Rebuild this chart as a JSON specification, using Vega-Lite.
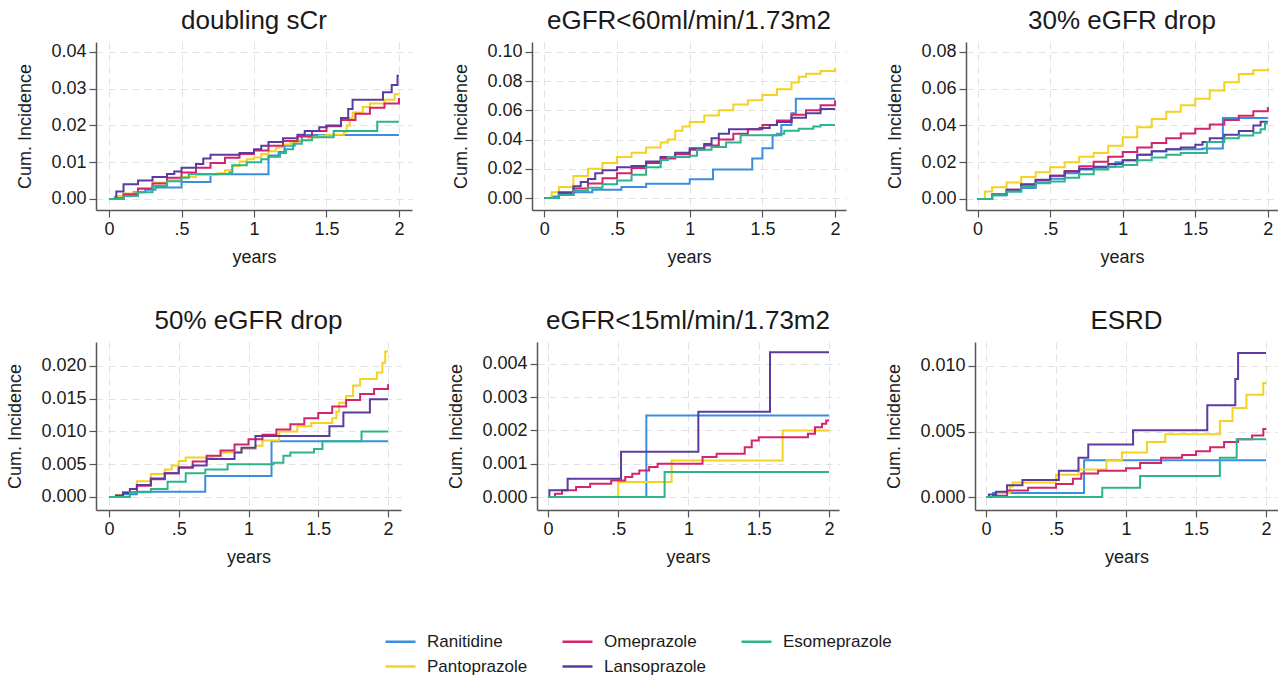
{
"$schema": "https://vega.github.io/schema/vega-lite/v6.json",
"padding": {"left": 6, "top": 8, "right": 0, "bottom": 0},
"datasets": {"d": [
{"p":"A","d":"Ranitidine","t":0,"v":0},{"p":"A","d":"Ranitidine","t":0.04,"v":0.0005},{"p":"A","d":"Ranitidine","t":0.1,"v":0.001},{"p":"A","d":"Ranitidine","t":0.17,"v":0.0018},{"p":"A","d":"Ranitidine","t":0.25,"v":0.0025},{"p":"A","d":"Ranitidine","t":0.32,"v":0.0031},{"p":"A","d":"Ranitidine","t":0.5,"v":0.0046},{"p":"A","d":"Ranitidine","t":0.7,"v":0.0067},{"p":"A","d":"Ranitidine","t":1.1,"v":0.0118},{"p":"A","d":"Ranitidine","t":1.17,"v":0.0128},{"p":"A","d":"Ranitidine","t":1.21,"v":0.0145},{"p":"A","d":"Ranitidine","t":1.28,"v":0.0158},{"p":"A","d":"Ranitidine","t":1.33,"v":0.0174},{"p":"A","d":"Ranitidine","t":2,"v":0.0174},
{"p":"A","d":"Pantoprazole","t":0,"v":0},{"p":"A","d":"Pantoprazole","t":0.05,"v":0.0008},{"p":"A","d":"Pantoprazole","t":0.1,"v":0.0015},{"p":"A","d":"Pantoprazole","t":0.2,"v":0.003},{"p":"A","d":"Pantoprazole","t":0.3,"v":0.0045},{"p":"A","d":"Pantoprazole","t":0.4,"v":0.0052},{"p":"A","d":"Pantoprazole","t":0.5,"v":0.006},{"p":"A","d":"Pantoprazole","t":0.6,"v":0.0065},{"p":"A","d":"Pantoprazole","t":0.75,"v":0.007},{"p":"A","d":"Pantoprazole","t":0.8,"v":0.0078},{"p":"A","d":"Pantoprazole","t":0.85,"v":0.009},{"p":"A","d":"Pantoprazole","t":0.9,"v":0.0102},{"p":"A","d":"Pantoprazole","t":0.95,"v":0.0108},{"p":"A","d":"Pantoprazole","t":1.0,"v":0.0113},{"p":"A","d":"Pantoprazole","t":1.05,"v":0.0122},{"p":"A","d":"Pantoprazole","t":1.1,"v":0.013},{"p":"A","d":"Pantoprazole","t":1.15,"v":0.014},{"p":"A","d":"Pantoprazole","t":1.2,"v":0.0148},{"p":"A","d":"Pantoprazole","t":1.25,"v":0.0155},{"p":"A","d":"Pantoprazole","t":1.3,"v":0.016},{"p":"A","d":"Pantoprazole","t":1.38,"v":0.0168},{"p":"A","d":"Pantoprazole","t":1.45,"v":0.0172},{"p":"A","d":"Pantoprazole","t":1.5,"v":0.0175},{"p":"A","d":"Pantoprazole","t":1.62,"v":0.0182},{"p":"A","d":"Pantoprazole","t":1.64,"v":0.02},{"p":"A","d":"Pantoprazole","t":1.66,"v":0.022},{"p":"A","d":"Pantoprazole","t":1.68,"v":0.0235},{"p":"A","d":"Pantoprazole","t":1.75,"v":0.025},{"p":"A","d":"Pantoprazole","t":1.8,"v":0.026},{"p":"A","d":"Pantoprazole","t":1.9,"v":0.027},{"p":"A","d":"Pantoprazole","t":1.97,"v":0.0285},{"p":"A","d":"Pantoprazole","t":2,"v":0.0285},
{"p":"A","d":"Omeprazole","t":0,"v":0},{"p":"A","d":"Omeprazole","t":0.1,"v":0.0013},{"p":"A","d":"Omeprazole","t":0.2,"v":0.0028},{"p":"A","d":"Omeprazole","t":0.3,"v":0.0042},{"p":"A","d":"Omeprazole","t":0.4,"v":0.0058},{"p":"A","d":"Omeprazole","t":0.5,"v":0.0072},{"p":"A","d":"Omeprazole","t":0.6,"v":0.0085},{"p":"A","d":"Omeprazole","t":0.7,"v":0.0098},{"p":"A","d":"Omeprazole","t":0.8,"v":0.0112},{"p":"A","d":"Omeprazole","t":0.9,"v":0.0122},{"p":"A","d":"Omeprazole","t":1.0,"v":0.0132},{"p":"A","d":"Omeprazole","t":1.1,"v":0.0145},{"p":"A","d":"Omeprazole","t":1.2,"v":0.0158},{"p":"A","d":"Omeprazole","t":1.3,"v":0.017},{"p":"A","d":"Omeprazole","t":1.4,"v":0.0185},{"p":"A","d":"Omeprazole","t":1.5,"v":0.0198},{"p":"A","d":"Omeprazole","t":1.6,"v":0.0215},{"p":"A","d":"Omeprazole","t":1.7,"v":0.0232},{"p":"A","d":"Omeprazole","t":1.8,"v":0.0248},{"p":"A","d":"Omeprazole","t":1.9,"v":0.026},{"p":"A","d":"Omeprazole","t":2.0,"v":0.0275},
{"p":"A","d":"Lansoprazole","t":0,"v":0},{"p":"A","d":"Lansoprazole","t":0.05,"v":0.002},{"p":"A","d":"Lansoprazole","t":0.1,"v":0.004},{"p":"A","d":"Lansoprazole","t":0.2,"v":0.005},{"p":"A","d":"Lansoprazole","t":0.3,"v":0.006},{"p":"A","d":"Lansoprazole","t":0.4,"v":0.0068},{"p":"A","d":"Lansoprazole","t":0.45,"v":0.0075},{"p":"A","d":"Lansoprazole","t":0.5,"v":0.0085},{"p":"A","d":"Lansoprazole","t":0.6,"v":0.0095},{"p":"A","d":"Lansoprazole","t":0.65,"v":0.011},{"p":"A","d":"Lansoprazole","t":0.7,"v":0.012},{"p":"A","d":"Lansoprazole","t":0.9,"v":0.0125},{"p":"A","d":"Lansoprazole","t":1.0,"v":0.0135},{"p":"A","d":"Lansoprazole","t":1.05,"v":0.0145},{"p":"A","d":"Lansoprazole","t":1.1,"v":0.0155},{"p":"A","d":"Lansoprazole","t":1.2,"v":0.0165},{"p":"A","d":"Lansoprazole","t":1.3,"v":0.0175},{"p":"A","d":"Lansoprazole","t":1.35,"v":0.0185},{"p":"A","d":"Lansoprazole","t":1.45,"v":0.0195},{"p":"A","d":"Lansoprazole","t":1.5,"v":0.02},{"p":"A","d":"Lansoprazole","t":1.6,"v":0.022},{"p":"A","d":"Lansoprazole","t":1.65,"v":0.0245},{"p":"A","d":"Lansoprazole","t":1.68,"v":0.027},{"p":"A","d":"Lansoprazole","t":1.86,"v":0.027},{"p":"A","d":"Lansoprazole","t":1.89,"v":0.029},{"p":"A","d":"Lansoprazole","t":1.95,"v":0.031},{"p":"A","d":"Lansoprazole","t":1.99,"v":0.0335},{"p":"A","d":"Lansoprazole","t":2,"v":0.0335},
{"p":"A","d":"Esomeprazole","t":0,"v":0},{"p":"A","d":"Esomeprazole","t":0.1,"v":0.0008},{"p":"A","d":"Esomeprazole","t":0.2,"v":0.0018},{"p":"A","d":"Esomeprazole","t":0.3,"v":0.0035},{"p":"A","d":"Esomeprazole","t":0.4,"v":0.0048},{"p":"A","d":"Esomeprazole","t":0.5,"v":0.0058},{"p":"A","d":"Esomeprazole","t":0.55,"v":0.0068},{"p":"A","d":"Esomeprazole","t":0.83,"v":0.0072},{"p":"A","d":"Esomeprazole","t":0.85,"v":0.0092},{"p":"A","d":"Esomeprazole","t":0.95,"v":0.01},{"p":"A","d":"Esomeprazole","t":1.05,"v":0.0108},{"p":"A","d":"Esomeprazole","t":1.1,"v":0.0115},{"p":"A","d":"Esomeprazole","t":1.18,"v":0.0125},{"p":"A","d":"Esomeprazole","t":1.22,"v":0.0135},{"p":"A","d":"Esomeprazole","t":1.27,"v":0.015},{"p":"A","d":"Esomeprazole","t":1.33,"v":0.016},{"p":"A","d":"Esomeprazole","t":1.4,"v":0.0168},{"p":"A","d":"Esomeprazole","t":1.55,"v":0.0185},{"p":"A","d":"Esomeprazole","t":1.85,"v":0.021},{"p":"A","d":"Esomeprazole","t":2,"v":0.021},

{"p":"B","d":"Ranitidine","t":0,"v":0},{"p":"B","d":"Ranitidine","t":0.05,"v":0.001},{"p":"B","d":"Ranitidine","t":0.1,"v":0.002},{"p":"B","d":"Ranitidine","t":0.2,"v":0.004},{"p":"B","d":"Ranitidine","t":0.33,"v":0.0057},{"p":"B","d":"Ranitidine","t":0.53,"v":0.0075},{"p":"B","d":"Ranitidine","t":0.7,"v":0.0098},{"p":"B","d":"Ranitidine","t":1.0,"v":0.0128},{"p":"B","d":"Ranitidine","t":1.16,"v":0.0195},{"p":"B","d":"Ranitidine","t":1.43,"v":0.027},{"p":"B","d":"Ranitidine","t":1.5,"v":0.034},{"p":"B","d":"Ranitidine","t":1.57,"v":0.043},{"p":"B","d":"Ranitidine","t":1.63,"v":0.05},{"p":"B","d":"Ranitidine","t":1.7,"v":0.058},{"p":"B","d":"Ranitidine","t":1.73,"v":0.068},{"p":"B","d":"Ranitidine","t":2,"v":0.068},
{"p":"B","d":"Pantoprazole","t":0,"v":0},{"p":"B","d":"Pantoprazole","t":0.05,"v":0.004},{"p":"B","d":"Pantoprazole","t":0.1,"v":0.0075},{"p":"B","d":"Pantoprazole","t":0.2,"v":0.015},{"p":"B","d":"Pantoprazole","t":0.3,"v":0.02},{"p":"B","d":"Pantoprazole","t":0.4,"v":0.024},{"p":"B","d":"Pantoprazole","t":0.5,"v":0.028},{"p":"B","d":"Pantoprazole","t":0.6,"v":0.031},{"p":"B","d":"Pantoprazole","t":0.7,"v":0.0345},{"p":"B","d":"Pantoprazole","t":0.8,"v":0.038},{"p":"B","d":"Pantoprazole","t":0.85,"v":0.04},{"p":"B","d":"Pantoprazole","t":0.9,"v":0.046},{"p":"B","d":"Pantoprazole","t":0.95,"v":0.049},{"p":"B","d":"Pantoprazole","t":1.0,"v":0.052},{"p":"B","d":"Pantoprazole","t":1.1,"v":0.0565},{"p":"B","d":"Pantoprazole","t":1.2,"v":0.06},{"p":"B","d":"Pantoprazole","t":1.3,"v":0.064},{"p":"B","d":"Pantoprazole","t":1.4,"v":0.067},{"p":"B","d":"Pantoprazole","t":1.5,"v":0.0705},{"p":"B","d":"Pantoprazole","t":1.6,"v":0.0745},{"p":"B","d":"Pantoprazole","t":1.7,"v":0.079},{"p":"B","d":"Pantoprazole","t":1.75,"v":0.083},{"p":"B","d":"Pantoprazole","t":1.8,"v":0.085},{"p":"B","d":"Pantoprazole","t":1.9,"v":0.087},{"p":"B","d":"Pantoprazole","t":2.0,"v":0.089},
{"p":"B","d":"Omeprazole","t":0,"v":0},{"p":"B","d":"Omeprazole","t":0.1,"v":0.003},{"p":"B","d":"Omeprazole","t":0.2,"v":0.0065},{"p":"B","d":"Omeprazole","t":0.3,"v":0.01},{"p":"B","d":"Omeprazole","t":0.4,"v":0.0135},{"p":"B","d":"Omeprazole","t":0.5,"v":0.017},{"p":"B","d":"Omeprazole","t":0.6,"v":0.0205},{"p":"B","d":"Omeprazole","t":0.7,"v":0.024},{"p":"B","d":"Omeprazole","t":0.8,"v":0.027},{"p":"B","d":"Omeprazole","t":0.9,"v":0.03},{"p":"B","d":"Omeprazole","t":1.0,"v":0.033},{"p":"B","d":"Omeprazole","t":1.1,"v":0.036},{"p":"B","d":"Omeprazole","t":1.2,"v":0.04},{"p":"B","d":"Omeprazole","t":1.3,"v":0.044},{"p":"B","d":"Omeprazole","t":1.4,"v":0.047},{"p":"B","d":"Omeprazole","t":1.5,"v":0.05},{"p":"B","d":"Omeprazole","t":1.6,"v":0.053},{"p":"B","d":"Omeprazole","t":1.7,"v":0.057},{"p":"B","d":"Omeprazole","t":1.8,"v":0.06},{"p":"B","d":"Omeprazole","t":1.9,"v":0.0635},{"p":"B","d":"Omeprazole","t":2.0,"v":0.067},
{"p":"B","d":"Lansoprazole","t":0,"v":0},{"p":"B","d":"Lansoprazole","t":0.1,"v":0.004},{"p":"B","d":"Lansoprazole","t":0.2,"v":0.008},{"p":"B","d":"Lansoprazole","t":0.25,"v":0.011},{"p":"B","d":"Lansoprazole","t":0.3,"v":0.013},{"p":"B","d":"Lansoprazole","t":0.35,"v":0.017},{"p":"B","d":"Lansoprazole","t":0.4,"v":0.019},{"p":"B","d":"Lansoprazole","t":0.5,"v":0.021},{"p":"B","d":"Lansoprazole","t":0.6,"v":0.022},{"p":"B","d":"Lansoprazole","t":0.7,"v":0.025},{"p":"B","d":"Lansoprazole","t":0.8,"v":0.028},{"p":"B","d":"Lansoprazole","t":0.9,"v":0.031},{"p":"B","d":"Lansoprazole","t":1.0,"v":0.034},{"p":"B","d":"Lansoprazole","t":1.1,"v":0.037},{"p":"B","d":"Lansoprazole","t":1.15,"v":0.041},{"p":"B","d":"Lansoprazole","t":1.2,"v":0.044},{"p":"B","d":"Lansoprazole","t":1.27,"v":0.047},{"p":"B","d":"Lansoprazole","t":1.48,"v":0.048},{"p":"B","d":"Lansoprazole","t":1.55,"v":0.05},{"p":"B","d":"Lansoprazole","t":1.6,"v":0.052},{"p":"B","d":"Lansoprazole","t":1.7,"v":0.055},{"p":"B","d":"Lansoprazole","t":1.8,"v":0.058},{"p":"B","d":"Lansoprazole","t":1.9,"v":0.061},{"p":"B","d":"Lansoprazole","t":2.0,"v":0.061},
{"p":"B","d":"Esomeprazole","t":0,"v":0},{"p":"B","d":"Esomeprazole","t":0.1,"v":0.002},{"p":"B","d":"Esomeprazole","t":0.2,"v":0.005},{"p":"B","d":"Esomeprazole","t":0.3,"v":0.007},{"p":"B","d":"Esomeprazole","t":0.4,"v":0.0095},{"p":"B","d":"Esomeprazole","t":0.5,"v":0.012},{"p":"B","d":"Esomeprazole","t":0.6,"v":0.016},{"p":"B","d":"Esomeprazole","t":0.7,"v":0.021},{"p":"B","d":"Esomeprazole","t":0.8,"v":0.026},{"p":"B","d":"Esomeprazole","t":0.85,"v":0.028},{"p":"B","d":"Esomeprazole","t":1.0,"v":0.029},{"p":"B","d":"Esomeprazole","t":1.05,"v":0.033},{"p":"B","d":"Esomeprazole","t":1.15,"v":0.035},{"p":"B","d":"Esomeprazole","t":1.25,"v":0.038},{"p":"B","d":"Esomeprazole","t":1.35,"v":0.043},{"p":"B","d":"Esomeprazole","t":1.6,"v":0.044},{"p":"B","d":"Esomeprazole","t":1.65,"v":0.046},{"p":"B","d":"Esomeprazole","t":1.75,"v":0.0475},{"p":"B","d":"Esomeprazole","t":1.85,"v":0.049},{"p":"B","d":"Esomeprazole","t":1.9,"v":0.05},{"p":"B","d":"Esomeprazole","t":2.0,"v":0.05},

{"p":"C","d":"Ranitidine","t":0,"v":0},{"p":"C","d":"Ranitidine","t":0.1,"v":0.002},{"p":"C","d":"Ranitidine","t":0.2,"v":0.004},{"p":"C","d":"Ranitidine","t":0.3,"v":0.006},{"p":"C","d":"Ranitidine","t":0.4,"v":0.009},{"p":"C","d":"Ranitidine","t":0.5,"v":0.011},{"p":"C","d":"Ranitidine","t":0.6,"v":0.014},{"p":"C","d":"Ranitidine","t":0.7,"v":0.016},{"p":"C","d":"Ranitidine","t":0.8,"v":0.017},{"p":"C","d":"Ranitidine","t":0.9,"v":0.0175},{"p":"C","d":"Ranitidine","t":0.95,"v":0.02},{"p":"C","d":"Ranitidine","t":1.0,"v":0.021},{"p":"C","d":"Ranitidine","t":1.1,"v":0.024},{"p":"C","d":"Ranitidine","t":1.2,"v":0.026},{"p":"C","d":"Ranitidine","t":1.3,"v":0.027},{"p":"C","d":"Ranitidine","t":1.55,"v":0.0275},{"p":"C","d":"Ranitidine","t":1.69,"v":0.044},{"p":"C","d":"Ranitidine","t":2,"v":0.044},
{"p":"C","d":"Pantoprazole","t":0,"v":0},{"p":"C","d":"Pantoprazole","t":0.05,"v":0.004},{"p":"C","d":"Pantoprazole","t":0.1,"v":0.0064},{"p":"C","d":"Pantoprazole","t":0.2,"v":0.009},{"p":"C","d":"Pantoprazole","t":0.3,"v":0.012},{"p":"C","d":"Pantoprazole","t":0.4,"v":0.0145},{"p":"C","d":"Pantoprazole","t":0.5,"v":0.0173},{"p":"C","d":"Pantoprazole","t":0.6,"v":0.02},{"p":"C","d":"Pantoprazole","t":0.7,"v":0.023},{"p":"C","d":"Pantoprazole","t":0.8,"v":0.025},{"p":"C","d":"Pantoprazole","t":0.9,"v":0.029},{"p":"C","d":"Pantoprazole","t":1.0,"v":0.0336},{"p":"C","d":"Pantoprazole","t":1.1,"v":0.039},{"p":"C","d":"Pantoprazole","t":1.2,"v":0.0435},{"p":"C","d":"Pantoprazole","t":1.3,"v":0.0475},{"p":"C","d":"Pantoprazole","t":1.4,"v":0.051},{"p":"C","d":"Pantoprazole","t":1.5,"v":0.0545},{"p":"C","d":"Pantoprazole","t":1.6,"v":0.059},{"p":"C","d":"Pantoprazole","t":1.7,"v":0.0635},{"p":"C","d":"Pantoprazole","t":1.8,"v":0.068},{"p":"C","d":"Pantoprazole","t":1.9,"v":0.07},{"p":"C","d":"Pantoprazole","t":2.0,"v":0.071},
{"p":"C","d":"Omeprazole","t":0,"v":0},{"p":"C","d":"Omeprazole","t":0.1,"v":0.0025},{"p":"C","d":"Omeprazole","t":0.2,"v":0.005},{"p":"C","d":"Omeprazole","t":0.3,"v":0.0077},{"p":"C","d":"Omeprazole","t":0.4,"v":0.0102},{"p":"C","d":"Omeprazole","t":0.5,"v":0.0127},{"p":"C","d":"Omeprazole","t":0.6,"v":0.0152},{"p":"C","d":"Omeprazole","t":0.7,"v":0.0178},{"p":"C","d":"Omeprazole","t":0.8,"v":0.0203},{"p":"C","d":"Omeprazole","t":0.9,"v":0.023},{"p":"C","d":"Omeprazole","t":1.0,"v":0.0255},{"p":"C","d":"Omeprazole","t":1.1,"v":0.028},{"p":"C","d":"Omeprazole","t":1.2,"v":0.0305},{"p":"C","d":"Omeprazole","t":1.3,"v":0.033},{"p":"C","d":"Omeprazole","t":1.4,"v":0.0356},{"p":"C","d":"Omeprazole","t":1.5,"v":0.0382},{"p":"C","d":"Omeprazole","t":1.6,"v":0.0405},{"p":"C","d":"Omeprazole","t":1.7,"v":0.043},{"p":"C","d":"Omeprazole","t":1.8,"v":0.0453},{"p":"C","d":"Omeprazole","t":1.9,"v":0.0477},{"p":"C","d":"Omeprazole","t":2.0,"v":0.05},
{"p":"C","d":"Lansoprazole","t":0,"v":0},{"p":"C","d":"Lansoprazole","t":0.1,"v":0.0025},{"p":"C","d":"Lansoprazole","t":0.2,"v":0.005},{"p":"C","d":"Lansoprazole","t":0.3,"v":0.008},{"p":"C","d":"Lansoprazole","t":0.4,"v":0.0105},{"p":"C","d":"Lansoprazole","t":0.5,"v":0.0127},{"p":"C","d":"Lansoprazole","t":0.6,"v":0.015},{"p":"C","d":"Lansoprazole","t":0.7,"v":0.0165},{"p":"C","d":"Lansoprazole","t":0.8,"v":0.0175},{"p":"C","d":"Lansoprazole","t":0.9,"v":0.019},{"p":"C","d":"Lansoprazole","t":1.0,"v":0.021},{"p":"C","d":"Lansoprazole","t":1.1,"v":0.024},{"p":"C","d":"Lansoprazole","t":1.2,"v":0.026},{"p":"C","d":"Lansoprazole","t":1.3,"v":0.027},{"p":"C","d":"Lansoprazole","t":1.4,"v":0.028},{"p":"C","d":"Lansoprazole","t":1.5,"v":0.0295},{"p":"C","d":"Lansoprazole","t":1.55,"v":0.031},{"p":"C","d":"Lansoprazole","t":1.6,"v":0.033},{"p":"C","d":"Lansoprazole","t":1.7,"v":0.035},{"p":"C","d":"Lansoprazole","t":1.8,"v":0.037},{"p":"C","d":"Lansoprazole","t":1.9,"v":0.04},{"p":"C","d":"Lansoprazole","t":1.95,"v":0.042},{"p":"C","d":"Lansoprazole","t":2.0,"v":0.042},
{"p":"C","d":"Esomeprazole","t":0,"v":0},{"p":"C","d":"Esomeprazole","t":0.1,"v":0.002},{"p":"C","d":"Esomeprazole","t":0.2,"v":0.004},{"p":"C","d":"Esomeprazole","t":0.3,"v":0.0065},{"p":"C","d":"Esomeprazole","t":0.4,"v":0.0085},{"p":"C","d":"Esomeprazole","t":0.5,"v":0.0095},{"p":"C","d":"Esomeprazole","t":0.6,"v":0.0115},{"p":"C","d":"Esomeprazole","t":0.7,"v":0.0135},{"p":"C","d":"Esomeprazole","t":0.8,"v":0.016},{"p":"C","d":"Esomeprazole","t":0.9,"v":0.0175},{"p":"C","d":"Esomeprazole","t":1.0,"v":0.0185},{"p":"C","d":"Esomeprazole","t":1.1,"v":0.021},{"p":"C","d":"Esomeprazole","t":1.2,"v":0.0225},{"p":"C","d":"Esomeprazole","t":1.3,"v":0.024},{"p":"C","d":"Esomeprazole","t":1.4,"v":0.025},{"p":"C","d":"Esomeprazole","t":1.58,"v":0.031},{"p":"C","d":"Esomeprazole","t":1.7,"v":0.033},{"p":"C","d":"Esomeprazole","t":1.8,"v":0.0345},{"p":"C","d":"Esomeprazole","t":1.9,"v":0.036},{"p":"C","d":"Esomeprazole","t":1.95,"v":0.038},{"p":"C","d":"Esomeprazole","t":1.98,"v":0.041},{"p":"C","d":"Esomeprazole","t":2.0,"v":0.041},

{"p":"D","d":"Ranitidine","t":0,"v":0},{"p":"D","d":"Ranitidine","t":0.05,"v":0.0002},{"p":"D","d":"Ranitidine","t":0.1,"v":0.0004},{"p":"D","d":"Ranitidine","t":0.2,"v":0.0008},{"p":"D","d":"Ranitidine","t":0.69,"v":0.0032},{"p":"D","d":"Ranitidine","t":1.165,"v":0.0085},{"p":"D","d":"Ranitidine","t":2,"v":0.0085},
{"p":"D","d":"Pantoprazole","t":0,"v":0},{"p":"D","d":"Pantoprazole","t":0.05,"v":0.0003},{"p":"D","d":"Pantoprazole","t":0.1,"v":0.0006},{"p":"D","d":"Pantoprazole","t":0.15,"v":0.0012},{"p":"D","d":"Pantoprazole","t":0.2,"v":0.0024},{"p":"D","d":"Pantoprazole","t":0.3,"v":0.0035},{"p":"D","d":"Pantoprazole","t":0.4,"v":0.0042},{"p":"D","d":"Pantoprazole","t":0.45,"v":0.0048},{"p":"D","d":"Pantoprazole","t":0.5,"v":0.0055},{"p":"D","d":"Pantoprazole","t":0.55,"v":0.006},{"p":"D","d":"Pantoprazole","t":0.75,"v":0.0062},{"p":"D","d":"Pantoprazole","t":0.8,"v":0.0068},{"p":"D","d":"Pantoprazole","t":0.95,"v":0.0073},{"p":"D","d":"Pantoprazole","t":1.05,"v":0.0078},{"p":"D","d":"Pantoprazole","t":1.1,"v":0.0086},{"p":"D","d":"Pantoprazole","t":1.22,"v":0.01},{"p":"D","d":"Pantoprazole","t":1.35,"v":0.0108},{"p":"D","d":"Pantoprazole","t":1.45,"v":0.0113},{"p":"D","d":"Pantoprazole","t":1.6,"v":0.012},{"p":"D","d":"Pantoprazole","t":1.63,"v":0.013},{"p":"D","d":"Pantoprazole","t":1.65,"v":0.0144},{"p":"D","d":"Pantoprazole","t":1.7,"v":0.0154},{"p":"D","d":"Pantoprazole","t":1.75,"v":0.017},{"p":"D","d":"Pantoprazole","t":1.8,"v":0.018},{"p":"D","d":"Pantoprazole","t":1.92,"v":0.019},{"p":"D","d":"Pantoprazole","t":1.96,"v":0.0205},{"p":"D","d":"Pantoprazole","t":1.98,"v":0.0222},{"p":"D","d":"Pantoprazole","t":2,"v":0.0222},
{"p":"D","d":"Omeprazole","t":0,"v":0},{"p":"D","d":"Omeprazole","t":0.1,"v":0.0007},{"p":"D","d":"Omeprazole","t":0.2,"v":0.0017},{"p":"D","d":"Omeprazole","t":0.3,"v":0.0027},{"p":"D","d":"Omeprazole","t":0.4,"v":0.0036},{"p":"D","d":"Omeprazole","t":0.5,"v":0.0045},{"p":"D","d":"Omeprazole","t":0.6,"v":0.0054},{"p":"D","d":"Omeprazole","t":0.7,"v":0.0063},{"p":"D","d":"Omeprazole","t":0.8,"v":0.0071},{"p":"D","d":"Omeprazole","t":0.9,"v":0.008},{"p":"D","d":"Omeprazole","t":1.0,"v":0.0088},{"p":"D","d":"Omeprazole","t":1.1,"v":0.0095},{"p":"D","d":"Omeprazole","t":1.2,"v":0.0103},{"p":"D","d":"Omeprazole","t":1.3,"v":0.0111},{"p":"D","d":"Omeprazole","t":1.4,"v":0.012},{"p":"D","d":"Omeprazole","t":1.5,"v":0.0128},{"p":"D","d":"Omeprazole","t":1.6,"v":0.0138},{"p":"D","d":"Omeprazole","t":1.7,"v":0.0148},{"p":"D","d":"Omeprazole","t":1.8,"v":0.0157},{"p":"D","d":"Omeprazole","t":1.9,"v":0.0165},{"p":"D","d":"Omeprazole","t":2.0,"v":0.0172},
{"p":"D","d":"Lansoprazole","t":0,"v":0},{"p":"D","d":"Lansoprazole","t":0.05,"v":0.0002},{"p":"D","d":"Lansoprazole","t":0.1,"v":0.0006},{"p":"D","d":"Lansoprazole","t":0.15,"v":0.0012},{"p":"D","d":"Lansoprazole","t":0.2,"v":0.0018},{"p":"D","d":"Lansoprazole","t":0.3,"v":0.0028},{"p":"D","d":"Lansoprazole","t":0.4,"v":0.0036},{"p":"D","d":"Lansoprazole","t":0.5,"v":0.0045},{"p":"D","d":"Lansoprazole","t":0.6,"v":0.0048},{"p":"D","d":"Lansoprazole","t":0.7,"v":0.0058},{"p":"D","d":"Lansoprazole","t":0.9,"v":0.0068},{"p":"D","d":"Lansoprazole","t":0.95,"v":0.0075},{"p":"D","d":"Lansoprazole","t":1.05,"v":0.0093},{"p":"D","d":"Lansoprazole","t":1.58,"v":0.0108},{"p":"D","d":"Lansoprazole","t":1.68,"v":0.0129},{"p":"D","d":"Lansoprazole","t":1.87,"v":0.0149},{"p":"D","d":"Lansoprazole","t":2,"v":0.0149},
{"p":"D","d":"Esomeprazole","t":0,"v":0},{"p":"D","d":"Esomeprazole","t":0.15,"v":0.0007},{"p":"D","d":"Esomeprazole","t":0.3,"v":0.0012},{"p":"D","d":"Esomeprazole","t":0.42,"v":0.0023},{"p":"D","d":"Esomeprazole","t":0.55,"v":0.0036},{"p":"D","d":"Esomeprazole","t":0.69,"v":0.0042},{"p":"D","d":"Esomeprazole","t":0.85,"v":0.005},{"p":"D","d":"Esomeprazole","t":1.18,"v":0.0052},{"p":"D","d":"Esomeprazole","t":1.25,"v":0.0063},{"p":"D","d":"Esomeprazole","t":1.3,"v":0.0068},{"p":"D","d":"Esomeprazole","t":1.47,"v":0.0073},{"p":"D","d":"Esomeprazole","t":1.53,"v":0.0085},{"p":"D","d":"Esomeprazole","t":1.81,"v":0.01},{"p":"D","d":"Esomeprazole","t":2,"v":0.01},

{"p":"E","d":"Ranitidine","t":0,"v":0},{"p":"E","d":"Ranitidine","t":0.7,"v":0.00245},{"p":"E","d":"Ranitidine","t":2,"v":0.00245},
{"p":"E","d":"Pantoprazole","t":0,"v":0},{"p":"E","d":"Pantoprazole","t":0.5,"v":0.00045},{"p":"E","d":"Pantoprazole","t":0.88,"v":0.0011},{"p":"E","d":"Pantoprazole","t":1.67,"v":0.002},{"p":"E","d":"Pantoprazole","t":2,"v":0.002},
{"p":"E","d":"Omeprazole","t":0,"v":0},{"p":"E","d":"Omeprazole","t":0.05,"v":0.0001},{"p":"E","d":"Omeprazole","t":0.1,"v":0.0002},{"p":"E","d":"Omeprazole","t":0.2,"v":0.0003},{"p":"E","d":"Omeprazole","t":0.3,"v":0.0004},{"p":"E","d":"Omeprazole","t":0.45,"v":0.0005},{"p":"E","d":"Omeprazole","t":0.55,"v":0.0006},{"p":"E","d":"Omeprazole","t":0.6,"v":0.0007},{"p":"E","d":"Omeprazole","t":0.65,"v":0.0008},{"p":"E","d":"Omeprazole","t":0.72,"v":0.0009},{"p":"E","d":"Omeprazole","t":0.78,"v":0.001},{"p":"E","d":"Omeprazole","t":1.1,"v":0.0012},{"p":"E","d":"Omeprazole","t":1.2,"v":0.0013},{"p":"E","d":"Omeprazole","t":1.4,"v":0.0015},{"p":"E","d":"Omeprazole","t":1.45,"v":0.0017},{"p":"E","d":"Omeprazole","t":1.5,"v":0.0018},{"p":"E","d":"Omeprazole","t":1.85,"v":0.0019},{"p":"E","d":"Omeprazole","t":1.9,"v":0.0021},{"p":"E","d":"Omeprazole","t":1.95,"v":0.0022},{"p":"E","d":"Omeprazole","t":1.98,"v":0.0023},{"p":"E","d":"Omeprazole","t":2,"v":0.0023},
{"p":"E","d":"Lansoprazole","t":0,"v":0},{"p":"E","d":"Lansoprazole","t":0.01,"v":0.0002},{"p":"E","d":"Lansoprazole","t":0.14,"v":0.00055},{"p":"E","d":"Lansoprazole","t":0.52,"v":0.00136},{"p":"E","d":"Lansoprazole","t":1.07,"v":0.00256},{"p":"E","d":"Lansoprazole","t":1.58,"v":0.00435},{"p":"E","d":"Lansoprazole","t":2,"v":0.00435},
{"p":"E","d":"Esomeprazole","t":0,"v":0},{"p":"E","d":"Esomeprazole","t":0.83,"v":0.00075},{"p":"E","d":"Esomeprazole","t":2,"v":0.00075},

{"p":"F","d":"Ranitidine","t":0,"v":0},{"p":"F","d":"Ranitidine","t":0.05,"v":0.0003},{"p":"F","d":"Ranitidine","t":0.7,"v":0.0028},{"p":"F","d":"Ranitidine","t":2,"v":0.0028},
{"p":"F","d":"Pantoprazole","t":0,"v":0},{"p":"F","d":"Pantoprazole","t":0.08,"v":0.0003},{"p":"F","d":"Pantoprazole","t":0.17,"v":0.0008},{"p":"F","d":"Pantoprazole","t":0.19,"v":0.0011},{"p":"F","d":"Pantoprazole","t":0.5,"v":0.0017},{"p":"F","d":"Pantoprazole","t":0.66,"v":0.0021},{"p":"F","d":"Pantoprazole","t":0.86,"v":0.0028},{"p":"F","d":"Pantoprazole","t":0.97,"v":0.0034},{"p":"F","d":"Pantoprazole","t":1.15,"v":0.0042},{"p":"F","d":"Pantoprazole","t":1.28,"v":0.0048},{"p":"F","d":"Pantoprazole","t":1.67,"v":0.0058},{"p":"F","d":"Pantoprazole","t":1.76,"v":0.0068},{"p":"F","d":"Pantoprazole","t":1.86,"v":0.0078},{"p":"F","d":"Pantoprazole","t":1.98,"v":0.0087},{"p":"F","d":"Pantoprazole","t":2,"v":0.0087},
{"p":"F","d":"Omeprazole","t":0,"v":0},{"p":"F","d":"Omeprazole","t":0.05,"v":0.0001},{"p":"F","d":"Omeprazole","t":0.15,"v":0.0005},{"p":"F","d":"Omeprazole","t":0.3,"v":0.0007},{"p":"F","d":"Omeprazole","t":0.5,"v":0.001},{"p":"F","d":"Omeprazole","t":0.62,"v":0.0014},{"p":"F","d":"Omeprazole","t":0.68,"v":0.0018},{"p":"F","d":"Omeprazole","t":0.8,"v":0.002},{"p":"F","d":"Omeprazole","t":1.0,"v":0.0022},{"p":"F","d":"Omeprazole","t":1.1,"v":0.0026},{"p":"F","d":"Omeprazole","t":1.25,"v":0.003},{"p":"F","d":"Omeprazole","t":1.4,"v":0.0032},{"p":"F","d":"Omeprazole","t":1.5,"v":0.0035},{"p":"F","d":"Omeprazole","t":1.6,"v":0.0038},{"p":"F","d":"Omeprazole","t":1.7,"v":0.0042},{"p":"F","d":"Omeprazole","t":1.8,"v":0.0044},{"p":"F","d":"Omeprazole","t":1.9,"v":0.0047},{"p":"F","d":"Omeprazole","t":1.98,"v":0.0052},{"p":"F","d":"Omeprazole","t":2,"v":0.0052},
{"p":"F","d":"Lansoprazole","t":0,"v":0},{"p":"F","d":"Lansoprazole","t":0.02,"v":0.0002},{"p":"F","d":"Lansoprazole","t":0.07,"v":0.0004},{"p":"F","d":"Lansoprazole","t":0.15,"v":0.0009},{"p":"F","d":"Lansoprazole","t":0.26,"v":0.0013},{"p":"F","d":"Lansoprazole","t":0.52,"v":0.002},{"p":"F","d":"Lansoprazole","t":0.66,"v":0.003},{"p":"F","d":"Lansoprazole","t":0.73,"v":0.004},{"p":"F","d":"Lansoprazole","t":1.05,"v":0.0051},{"p":"F","d":"Lansoprazole","t":1.58,"v":0.007},{"p":"F","d":"Lansoprazole","t":1.78,"v":0.009},{"p":"F","d":"Lansoprazole","t":1.8,"v":0.011},{"p":"F","d":"Lansoprazole","t":2,"v":0.011},
{"p":"F","d":"Esomeprazole","t":0,"v":0},{"p":"F","d":"Esomeprazole","t":0.83,"v":0.0007},{"p":"F","d":"Esomeprazole","t":1.1,"v":0.0016},{"p":"F","d":"Esomeprazole","t":1.67,"v":0.003},{"p":"F","d":"Esomeprazole","t":1.79,"v":0.0044},{"p":"F","d":"Esomeprazole","t":2,"v":0.0044}
]},
"data": {"name": "d"},
"spacing": 42,
"vconcat": [
{"spacing": 40, "hconcat": [
{"width": 316, "height": 168, "title": "doubling sCr",
 "transform": [{"filter": "datum.p == 'A'"}],
 "mark": {"type": "line", "interpolate": "step-after", "strokeWidth": 2},
 "encoding": {
  "x": {"field": "t", "type": "quantitative", "scale": {"domain": [-0.09, 2.09], "nice": false, "zero": false}, "axis": {"values": [0, 0.5, 1, 1.5, 2], "title": "years", "labelExpr": "datum.value == 0.5 ? '.5' : toString(datum.value)"}},
  "y": {"field": "v", "type": "quantitative", "scale": {"domain": [-0.003, 0.0427], "nice": false, "zero": false}, "axis": {"values": [0, 0.01, 0.02, 0.03, 0.04], "format": ".2f", "title": "Cum. Incidence"}},
  "color": {"field": "d", "type": "nominal", "scale": {"domain": ["Ranitidine", "Omeprazole", "Esomeprazole", "Pantoprazole", "Lansoprazole"], "range": ["#3a8ede", "#d4246c", "#2db48f", "#f4d21f", "#5b3b9f"]}, "legend": {"title": null}}
 }},
{"width": 314, "height": 168, "title": "eGFR<60ml/min/1.73m2",
 "transform": [{"filter": "datum.p == 'B'"}],
 "mark": {"type": "line", "interpolate": "step-after", "strokeWidth": 2},
 "encoding": {
  "x": {"field": "t", "type": "quantitative", "scale": {"domain": [-0.085, 2.075], "nice": false, "zero": false}, "axis": {"values": [0, 0.5, 1, 1.5, 2], "title": "years", "labelExpr": "datum.value == 0.5 ? '.5' : toString(datum.value)"}},
  "y": {"field": "v", "type": "quantitative", "scale": {"domain": [-0.0082, 0.1068], "nice": false, "zero": false}, "axis": {"values": [0, 0.02, 0.04, 0.06, 0.08, 0.1], "format": ".2f", "title": "Cum. Incidence"}},
  "color": {"field": "d", "type": "nominal", "legend": {"title": null}}
 }},
{"width": 312, "height": 168, "title": "30% eGFR drop",
 "transform": [{"filter": "datum.p == 'C'"}],
 "mark": {"type": "line", "interpolate": "step-after", "strokeWidth": 2},
 "encoding": {
  "x": {"field": "t", "type": "quantitative", "scale": {"domain": [-0.08, 2.07], "nice": false, "zero": false}, "axis": {"values": [0, 0.5, 1, 1.5, 2], "title": "years", "labelExpr": "datum.value == 0.5 ? '.5' : toString(datum.value)"}},
  "y": {"field": "v", "type": "quantitative", "scale": {"domain": [-0.006, 0.0854], "nice": false, "zero": false}, "axis": {"values": [0, 0.02, 0.04, 0.06, 0.08], "format": ".2f", "title": "Cum. Incidence"}},
  "color": {"field": "d", "type": "nominal", "legend": {"title": null}}
 }}
]},
{"spacing": 46, "hconcat": [
{"width": 305, "height": 168, "title": "50% eGFR drop",
 "transform": [{"filter": "datum.p == 'D'"}],
 "mark": {"type": "line", "interpolate": "step-after", "strokeWidth": 2},
 "encoding": {
  "x": {"field": "t", "type": "quantitative", "scale": {"domain": [-0.093, 2.093], "nice": false, "zero": false}, "axis": {"values": [0, 0.5, 1, 1.5, 2], "title": "years", "labelExpr": "datum.value == 0.5 ? '.5' : toString(datum.value)"}},
  "y": {"field": "v", "type": "quantitative", "scale": {"domain": [-0.002, 0.02366], "nice": false, "zero": false}, "axis": {"values": [0, 0.005, 0.01, 0.015, 0.02], "format": ".3f", "title": "Cum. Incidence"}},
  "color": {"field": "d", "type": "nominal", "legend": {"title": null}}
 }},
{"width": 302, "height": 168, "title": "eGFR<15ml/min/1.73m2",
 "transform": [{"filter": "datum.p == 'E'"}],
 "mark": {"type": "line", "interpolate": "step-after", "strokeWidth": 2},
 "encoding": {
  "x": {"field": "t", "type": "quantitative", "scale": {"domain": [-0.078, 2.071], "nice": false, "zero": false}, "axis": {"values": [0, 0.5, 1, 1.5, 2], "title": "years", "labelExpr": "datum.value == 0.5 ? '.5' : toString(datum.value)"}},
  "y": {"field": "v", "type": "quantitative", "scale": {"domain": [-0.00039, 0.00466], "nice": false, "zero": false}, "axis": {"values": [0, 0.001, 0.002, 0.003, 0.004], "format": ".3f", "title": "Cum. Incidence"}},
  "color": {"field": "d", "type": "nominal", "legend": {"title": null}}
 }},
{"width": 303, "height": 168, "title": "ESRD",
 "transform": [{"filter": "datum.p == 'F'"}],
 "mark": {"type": "line", "interpolate": "step-after", "strokeWidth": 2},
 "encoding": {
  "x": {"field": "t", "type": "quantitative", "scale": {"domain": [-0.079, 2.085], "nice": false, "zero": false}, "axis": {"values": [0, 0.5, 1, 1.5, 2], "title": "years", "labelExpr": "datum.value == 0.5 ? '.5' : toString(datum.value)"}},
  "y": {"field": "v", "type": "quantitative", "scale": {"domain": [-0.00099, 0.01183], "nice": false, "zero": false}, "axis": {"values": [0, 0.005, 0.01], "format": ".3f", "title": "Cum. Incidence"}},
  "color": {"field": "d", "type": "nominal", "legend": {"title": null}}
 }}
]}
],
"config": {
 "view": {"stroke": null},
 "font": "Liberation Sans",
 "title": {"fontSize": 26, "fontWeight": "normal", "color": "#1a1a1a", "offset": 8, "anchor": "middle"},
 "axis": {"labelFontSize": 18, "titleFontSize": 18, "titleFontWeight": "normal", "labelColor": "#1a1a1a", "titleColor": "#1a1a1a", "domainColor": "#555555", "tickColor": "#555555", "tickSize": 7, "domainWidth": 1.5, "tickWidth": 1.2, "gridColor": "#e2e2e2", "gridDash": [7, 5], "labelPadding": 3},
 "axisY": {"titlePadding": 16},
 "axisX": {"titlePadding": 10},
 "legend": {"orient": "none", "legendX": 288, "legendY": 583, "columns": 3, "direction": "horizontal", "symbolType": "M-1,0H1", "symbolSize": 900, "symbolStrokeWidth": 2.5, "labelFontSize": 17, "labelColor": "#1a1a1a", "columnPadding": 29, "rowPadding": -5, "labelOffset": 10}
}
}
